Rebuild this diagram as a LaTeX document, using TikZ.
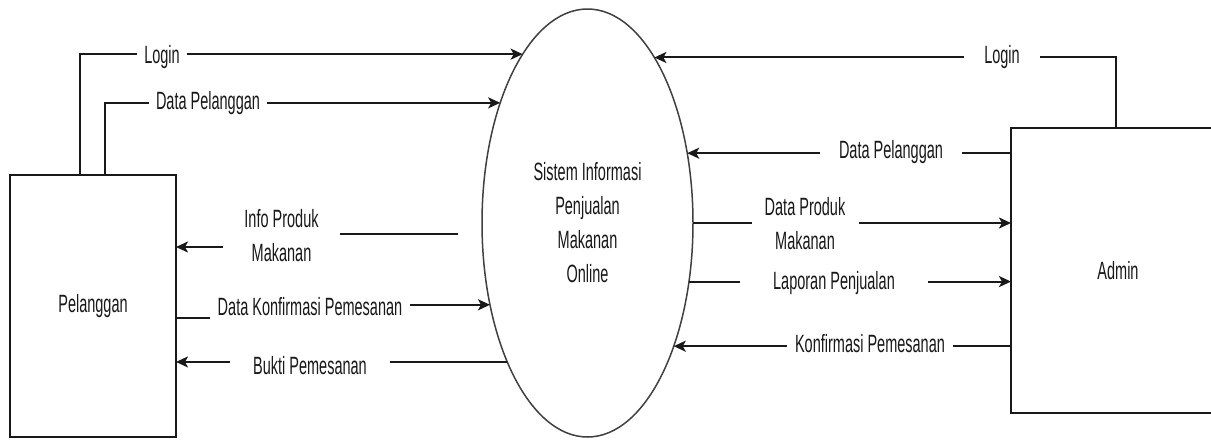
\documentclass[tikz,border=0pt]{standalone}
\usepackage{fontspec}
\newfontfamily\labfont[FakeStretch=0.58]{Liberation Sans}
\usetikzlibrary{arrows.meta,shapes.geometric}
\begin{document}
\begin{tikzpicture}[x=1pt,y=-1pt,
  every node/.style={text=black!90, font=\labfont\fontsize{25pt}{34pt}\selectfont},
  entity/.style={draw=black!90, line width=2pt, inner sep=0pt, outer sep=0pt},
  proc/.style={ellipse, draw=black!75, line width=1.5pt, inner sep=0pt, outer sep=0pt, align=center},
  flow/.style={draw=black!90, line width=2pt},
  arr/.style={flow, -{Stealth[length=12pt,width=11pt,inset=3pt]}},
  lab/.style={fill=white, inner sep=0pt, align=center, minimum height=30pt}
]
\useasboundingbox (0,0) rectangle (1211,440);
\clip (0,0) rectangle (1211,440);
\fill[white] (0,0) rectangle (1211,440);
% entities and process
\node[entity, minimum width=166pt, minimum height=262pt] (pel) at (93,306) {Pelanggan};
\node[entity, minimum width=214pt, minimum height=285pt] (adm) at (1118,270.5) {Admin};
\node[proc, minimum width=211pt, minimum height=428pt] (sis) at (587.5,223) {Sistem Informasi\\Penjualan\\Makanan\\Online};
% left flows
\draw[arr] ([xshift=70pt]pel.north west) |- (sis.111.9);
\draw[arr] ([xshift=95pt]pel.north west) |- (sis.126.1);
\coordinate (ip) at (458,234);
\coordinate (ipb) at (281,247);
\draw[arr] (ip) -| (ipb) -- (ipb -| pel.east);
\coordinate (dk) at (310,318);
\draw[arr] (dk -| pel.east) -- (dk) |- (sis.220.5);
\draw[arr] (sis.240.6) -- (sis.240.6 -| pel.east);
% right flows
\draw[arr] ([xshift=-2pt]adm.north) |- (sis.68.1);
\draw[arr] (sis.35.5 -| adm.west) -- (sis.35.5);
\draw[arr] (sis.east) -- (sis.east -| adm.west);
\draw[arr] (sis.330.3) -- (sis.330.3 -| adm.west);
\draw[arr] (sis.305.7 -| adm.west) -- (sis.305.7);
% labels
\node[lab, minimum width=50pt] (l1) at (162,57) {Login};
\node[lab, minimum width=118pt] (l2) at (208,103) {Data Pelanggan};
\node[lab, minimum width=117pt] (l3) at (281.5,236) {Info Produk\\Makanan};
\node[lab, minimum width=200pt] (l4) at (310,307) {Data Konfirmasi Pemesanan};
\node[lab, minimum width=160pt] (l5) at (310,366) {Bukti Pemesanan};
\node[lab, minimum width=76pt] (r1) at (1002,57) {Login};
\node[lab, minimum width=142pt] (r2) at (891,152) {Data Pelanggan};
\node[lab, minimum width=107pt] (r3) at (805,224) {Data Produk\\Makanan};
\node[lab, minimum width=188pt] (r4) at (834,283) {Laporan Penjualan};
\node[lab, minimum width=166pt] (r5) at (870,344) {Konfirmasi Pemesanan};
\end{tikzpicture}
\end{document}
